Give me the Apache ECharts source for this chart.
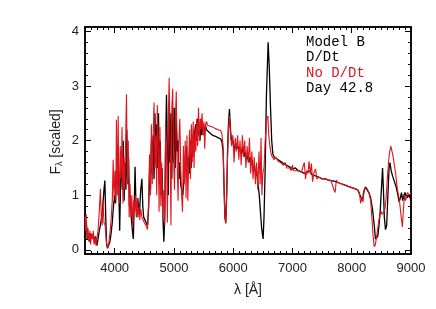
<!DOCTYPE html>
<html><head><meta charset="utf-8">
<script src="https://cdn.jsdelivr.net/npm/echarts@6/dist/echarts.min.js"></script>
<style>html,body{margin:0;padding:0;background:#fff}#c{width:436px;height:309px}</style>
</head><body><div id="c"></div>
<script>
// Model B, D/Dt (black)
const blackWave = [3500,3520,3540,3560,3580,3600,3620,3640,3660,3680,3700,3720,3740,3760,3780,3800,3820,3835,3850,3865,3880,3900,3920,3940,3960,3980,4000,4015,4030,4045,4060,4075,4085,4100,4115,4130,4145,4160,4175,4190,4205,4220,4235,4250,4265,4280,4300,4315,4330,4345,4360,4375,4390,4405,4420,4440,4460,4475,4490,4510,4530,4555,4575,4590,4605,4620,4635,4650,4665,4680,4695,4710,4725,4740,4755,4770,4785,4800,4815,4830,4845,4860,4875,4890,4905,4920,4935,4950,4965,4980,4995,5010,5025,5040,5055,5070,5085,5100,5115,5130,5150,5170,5190,5210,5230,5245,5260,5275,5290,5305,5320,5335,5350,5365,5380,5395,5410,5425,5440,5455,5470,5490,5510,5530,5550,5600,5650,5700,5750,5790,5810,5830,5845,5860,5875,5890,5905,5920,5937,5955,5975,6000,6020,6040,6060,6080,6100,6120,6140,6160,6180,6200,6220,6240,6260,6280,6300,6320,6340,6360,6380,6400,6420,6440,6460,6480,6505,6520,6540,6560,6590,6610,6630,6650,6670,6690,6720,6760,6800,6850,6900,6950,7000,7050,7100,7150,7200,7250,7300,7320,7350,7400,7450,7500,7550,7600,7650,7700,7750,7800,7850,7900,7950,8000,8050,8100,8130,8160,8180,8200,8230,8260,8290,8320,8350,8380,8400,8420,8440,8460,8480,8500,8520,8535,8550,8570,8590,8610,8630,8645,8665,8690,8720,8750,8780,8800,8820,8840,8860,8880,8900,8930,8960,9000];
const blackFlux = [0.35,0.55,0.2,0.3,0.15,0.3,0.2,0.28,0.12,0.25,0.08,0.2,0.35,0.45,0.6,0.8,1.1,1.27,0.6,0.1,0.03,0.06,0.15,0.3,0.5,0.8,1.0,0.85,1.45,1.2,1.9,0.9,0.35,1.2,1.8,1.1,2.0,0.9,1.6,1.1,2.2,1.2,1.7,0.8,1.0,0.6,0.35,0.2,0.8,1.52,0.8,0.6,0.95,0.75,0.7,1.1,1.3,0.8,0.6,0.55,0.5,0.45,0.8,1.5,1.1,2.0,1.4,2.1,1.3,2.5,1.6,2.3,1.5,2.5,1.2,2.0,1.0,1.5,0.6,0.15,0.6,1.9,2.84,1.8,1.0,2.7,1.6,2.5,1.3,2.6,1.6,2.6,1.5,2.4,1.8,2.0,1.3,1.6,1.2,1.1,1.0,1.3,1.5,1.9,1.3,1.7,1.4,2.0,1.5,2.1,1.7,2.2,1.8,2.3,2.0,2.4,2.1,2.3,2.0,2.4,2.1,2.3,2.1,2.3,2.2,2.15,2.1,2.08,2.05,2.03,1.98,1.8,1.2,0.6,0.5,1.0,1.8,2.3,2.58,2.2,1.95,2.0,1.8,1.95,1.85,1.9,1.8,1.85,1.75,1.9,1.7,1.8,1.65,1.75,1.6,1.7,1.55,1.65,1.45,1.55,1.35,1.45,1.2,1.0,0.7,0.4,0.2,0.6,1.5,2.8,3.8,3.3,2.6,2.0,1.75,1.7,1.68,1.65,1.62,1.58,1.55,1.52,1.48,1.5,1.45,1.43,1.4,1.42,1.45,1.38,1.35,1.35,1.33,1.3,1.3,1.28,1.27,1.26,1.24,1.22,1.2,1.18,1.16,1.14,1.12,1.1,1.08,0.95,0.9,1.05,1.15,1.12,1.05,0.95,0.75,0.45,0.2,0.18,0.25,0.45,0.7,1.1,1.5,1.1,0.6,0.37,0.45,1.0,1.5,1.6,1.45,1.35,1.25,1.15,1.0,0.88,0.95,1.05,0.9,1.0,1.05,0.95,1.0,0.92];
// No D/Dt (red)
const redWave = [3500,3510,3520,3535,3550,3565,3580,3595,3610,3625,3640,3655,3670,3685,3700,3720,3740,3760,3775,3790,3805,3820,3840,3860,3880,3900,3920,3940,3960,3975,3990,4005,4020,4030,4045,4060,4070,4080,4095,4110,4125,4140,4155,4170,4185,4200,4215,4230,4245,4260,4275,4290,4305,4320,4335,4350,4365,4380,4395,4410,4425,4440,4460,4480,4500,4520,4540,4555,4570,4590,4605,4620,4635,4650,4665,4680,4695,4710,4720,4735,4750,4765,4780,4795,4810,4830,4845,4860,4875,4890,4905,4920,4935,4950,4965,4980,4995,5010,5025,5040,5055,5070,5085,5100,5115,5130,5145,5160,5175,5190,5205,5220,5235,5250,5265,5280,5295,5310,5325,5340,5355,5370,5385,5400,5415,5430,5445,5460,5475,5490,5505,5520,5535,5550,5570,5600,5650,5700,5750,5790,5810,5830,5845,5860,5875,5890,5905,5920,5937,5955,5975,5995,6015,6035,6055,6075,6095,6115,6135,6155,6175,6195,6215,6235,6255,6275,6295,6315,6335,6355,6375,6395,6415,6435,6455,6470,6485,6500,6520,6540,6565,6585,6600,6620,6640,6660,6690,6720,6760,6800,6850,6880,6900,6950,6980,7000,7020,7050,7100,7150,7180,7200,7220,7240,7260,7280,7300,7320,7340,7360,7390,7410,7450,7500,7550,7600,7650,7680,7700,7720,7740,7760,7800,7850,7900,7950,8000,8050,8100,8130,8150,8170,8190,8210,8240,8270,8300,8320,8340,8360,8380,8400,8420,8440,8460,8480,8500,8520,8540,8560,8580,8600,8620,8640,8660,8680,8700,8720,8740,8760,8780,8800,8820,8840,8855,8870,8890,8910,8940,8970,9000];
const redFlux = [0.6,0.35,0.65,0.2,0.4,0.15,0.35,0.1,0.3,0.2,0.35,0.1,0.25,0.08,0.2,0.35,0.7,1.12,0.6,0.45,0.9,0.5,0.45,0.15,0.04,0.1,0.3,0.55,0.9,1.65,0.95,1.45,0.9,2.38,1.0,2.45,1.2,0.85,1.9,1.3,2.25,0.85,1.7,1.1,2.0,2.85,1.2,2.0,0.6,1.2,0.6,1.0,0.4,0.9,0.7,1.0,0.6,0.95,0.6,0.8,0.55,0.75,0.6,0.6,0.5,0.5,0.42,0.37,0.8,1.75,1.0,2.3,1.2,2.1,2.7,1.5,2.1,1.0,2.65,2.0,0.7,2.25,0.8,1.6,0.6,1.1,0.45,2.3,1.8,0.5,2.4,3.15,2.0,0.45,2.6,2.95,1.7,1.1,2.4,2.9,1.6,0.9,2.0,2.4,1.5,1.0,0.7,1.9,1.2,2.0,0.95,2.1,0.9,1.7,2.2,1.3,2.3,1.6,2.35,1.5,2.25,1.8,2.4,1.9,2.6,2.0,2.4,2.2,2.5,2.1,2.35,1.85,2.3,2.35,2.28,2.27,2.25,2.22,2.2,2.18,2.12,1.9,1.2,0.6,0.48,1.0,1.7,2.2,2.45,2.1,1.9,2.1,1.6,2.05,1.8,2.1,1.65,2.0,1.55,2.1,1.7,2.0,1.5,1.9,1.6,2.05,1.4,1.8,1.3,1.7,1.2,1.6,1.1,1.8,1.2,2.05,1.0,1.4,1.5,2.0,2.4,2.45,2.1,1.9,1.75,1.7,1.65,1.7,1.62,1.6,1.55,1.6,1.5,1.5,1.45,1.55,1.45,1.48,1.45,1.42,1.4,1.6,1.3,1.45,1.4,1.62,1.4,1.58,1.25,1.4,1.48,1.3,1.33,1.3,1.3,1.28,1.27,1.25,1.1,1.05,1.28,1.24,1.22,1.2,1.18,1.16,1.14,1.12,1.1,1.05,0.85,0.95,0.88,1.1,1.15,1.1,1.0,0.9,0.6,0.25,0.06,0.1,0.25,0.4,0.55,0.65,0.7,0.65,0.7,0.75,0.95,1.3,1.6,1.8,1.9,1.88,1.7,1.55,1.4,1.2,1.05,0.95,0.75,0.55,0.42,0.7,1.0,0.9,1.05,1.0,1.05];
const xMajorTicks = [4000,5000,6000,7000,8000,9000];
const yMajorTicks = [0,1,2,3,4];
const legendLines = ['Model B','D/Dt','No D/Dt','Day 42.8'];

const xMinor = []; for (let v = 3500; v <= 9000; v += 100) xMinor.push(v);
const yMinor = []; for (let k = 0; k <= 20; k++) yMinor.push(+(k*0.2).toFixed(1));

const X0 = 3500, X1 = 9000, Y0 = -0.075, Y1 = 4.08;
const lbl = {fontFamily:'Liberation Sans', fontSize:13, color:'#222', formatter: v => String(v)};
function xAx(pos, ticks, len, labels) {
  return {type:'value', position:pos, min:X0, max:X1,
    axisLine:{show:true, onZero:false, lineStyle:{color:'#000', width:1.5}},
    axisTick:{show:true, inside:true, length:len, customValues:ticks, lineStyle:{color:'#000', width:1}},
    axisLabel: labels ? Object.assign({show:true, margin:8, customValues:xMajorTicks}, lbl) : {show:false},
    splitLine:{show:false}};
}
function yAx(pos, ticks, len, labels) {
  return {type:'value', position:pos, min:Y0, max:Y1,
    axisLine:{show:true, onZero:false, lineStyle:{color:'#000', width:1.5}},
    axisTick:{show:true, inside:true, length:len, customValues:ticks, lineStyle:{color:'#000', width:1}},
    axisLabel: labels ? Object.assign({show:true, margin:6, customValues:yMajorTicks}, lbl) : {show:false},
    splitLine:{show:false}};
}
const chart = echarts.init(document.getElementById('c'), null, {renderer:'canvas'});
chart.setOption({
  animation:false,
  backgroundColor:'#fff',
  grid:{left:85, right:25, top:27, bottom:55, containLabel:false},
  xAxis:[xAx('bottom', xMajorTicks, 6, true), xAx('bottom', xMinor, 3, false),
         xAx('top', xMajorTicks, 6, false), xAx('top', xMinor, 3, false)],
  yAxis:[yAx('left', yMajorTicks, 6, true), yAx('left', yMinor, 3, false),
         yAx('right', yMajorTicks, 6, false), yAx('right', yMinor, 3, false)],
  series:[
    {type:'line', name:'D/Dt', xAxisIndex:0, yAxisIndex:0, showSymbol:false,
     data: blackWave.map((w,i)=>[w, blackFlux[i]]), lineStyle:{color:'#000', width:1.3}, z:2},
    {type:'line', name:'No D/Dt', xAxisIndex:0, yAxisIndex:0, showSymbol:false,
     data: redWave.map((w,i)=>[w, redFlux[i]]), lineStyle:{color:'#e0141c', width:1.1}, z:3}
  ],
  graphic:[
    {type:'text', left:306, top:35, style:{text:legendLines[0], font:'14px "Liberation Mono"', fill:'#000'}},
    {type:'text', left:306, top:50.5, style:{text:legendLines[1], font:'14px "Liberation Mono"', fill:'#000'}},
    {type:'text', left:306, top:66, style:{text:legendLines[2], font:'14px "Liberation Mono"', fill:'#e0141c'}},
    {type:'text', left:306, top:81.5, style:{text:legendLines[3], font:'14px "Liberation Mono"', fill:'#000'}},
    {type:'text', x:56, y:142, rotation:Math.PI/2, style:{
      text:'{a|F}{s|λ}{a| [scaled]}', align:'center', verticalAlign:'middle',
      rich:{a:{font:'14px "Liberation Sans"', fill:'#222'}, s:{font:'9px "Liberation Sans"', fill:'#222', padding:[8,0,0,0]}}}},
    {type:'text', x:248, y:290, style:{text:'λ [Å]', align:'center', verticalAlign:'middle', font:'14px "Liberation Sans"', fill:'#222'}}
  ]
});
</script>
</body></html>
